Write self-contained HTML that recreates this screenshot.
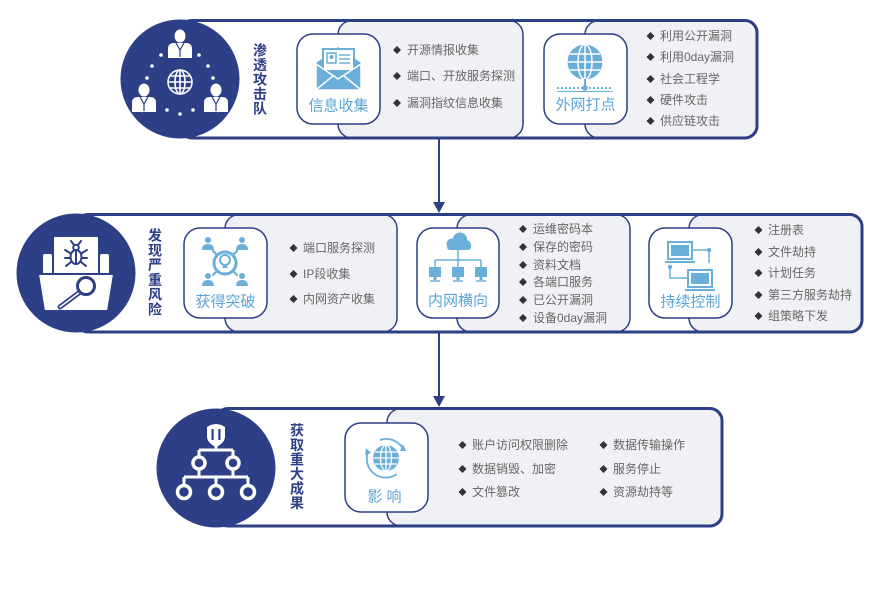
<!DOCTYPE html>
<html><head><meta charset="utf-8"><style>
html,body{margin:0;padding:0;background:#fff;}
svg{display:block;font-family:"Liberation Sans","Noto Sans CJK SC",sans-serif;}
.b{font-size:12px;fill:#666;dominant-baseline:central;}
.t{font-size:14px;font-weight:bold;fill:#2d3f86;text-anchor:middle;dominant-baseline:central;}
.l{font-size:15px;fill:#5ba5d6;text-anchor:middle;dominant-baseline:central;}
.pn{fill:#f0f1f4;stroke:#2d3f86;stroke-width:1.5;}
.fr{fill:none;stroke:#2d3f86;stroke-width:3;}
.bx{fill:#fff;stroke:#2d3f86;stroke-width:1.5;}
.d{fill:#333;}
</style></head><body>
<svg width="884" height="589" viewBox="0 0 884 589" xmlns="http://www.w3.org/2000/svg">
<defs>
<g id="dm"><polygon points="0,-4 4,0 0,4 -4,0"/></g>
</defs>

<!-- ============ ROW 1 ============ -->
<rect class="pn" x="338" y="20.5" width="185" height="117.5" rx="14"/>
<rect class="pn" x="585" y="20.5" width="172" height="117.5" rx="14"/>
<rect class="fr" x="180" y="20.5" width="577" height="117.5" rx="12"/>
<rect class="bx" x="297" y="34" width="83" height="90" rx="16"/>
<rect class="bx" x="544" y="34" width="83" height="90" rx="16"/>
<circle cx="180" cy="79" r="59.5" fill="#2d3f86"/>

<!-- people icon -->
<g fill="#fff">
  <ellipse cx="180" cy="36" rx="5.5" ry="6.5"/>
  <path d="M168,58 L168,49 Q168,43 174,43 L186,43 Q192,43 192,49 L192,58 Z"/>
  <ellipse cx="144" cy="90" rx="5.5" ry="6.5"/>
  <path d="M132,112 L132,103 Q132,97 138,97 L150,97 Q156,97 156,103 L156,112 Z"/>
  <ellipse cx="216" cy="90" rx="5.5" ry="6.5"/>
  <path d="M204,112 L204,103 Q204,97 210,97 L222,97 Q228,97 228,103 L228,112 Z"/>
  <circle cx="161" cy="55" r="1.8"/><circle cx="199" cy="55" r="1.8"/>
  <circle cx="152" cy="66" r="1.8"/><circle cx="208" cy="66" r="1.8"/>
  <circle cx="147" cy="78" r="1.8"/><circle cx="213" cy="78" r="1.8"/>
  <circle cx="167" cy="110" r="1.8"/><circle cx="180" cy="114" r="1.8"/><circle cx="193" cy="110" r="1.8"/>
</g>
<g stroke="#2d3f86" stroke-width="1.2" fill="none">
  <path d="M176,43 L180,50 L184,43"/><path d="M180,50 L180,57"/>
  <path d="M140,97 L144,104 L148,97"/><path d="M144,104 L144,111"/>
  <path d="M212,97 L216,104 L220,97"/><path d="M216,104 L216,111"/>
</g>
<g stroke="#fff" stroke-width="1.6" fill="none">
  <circle cx="180" cy="82" r="12"/>
  <ellipse cx="180" cy="82" rx="5" ry="12"/>
  <line x1="180" y1="70" x2="180" y2="94"/>
  <line x1="168" y1="82" x2="192" y2="82"/>
  <line x1="170" y1="76" x2="190" y2="76"/>
  <line x1="170" y1="88" x2="190" y2="88"/>
</g>

<!-- envelope icon -->
<g>
  <polygon points="316,63 338,47 361,63 361,90 316,90" fill="#6aafd9"/>
  <rect x="323" y="49" width="31" height="22" fill="#fff" stroke="#6aafd9" stroke-width="2"/>
  <rect x="327" y="53" width="9" height="10" fill="none" stroke="#6aafd9" stroke-width="1.5"/>
  <circle cx="331.5" cy="57" r="2" fill="#6aafd9"/>
  <g stroke="#6aafd9" stroke-width="1.5"><line x1="339" y1="55" x2="350" y2="55"/><line x1="339" y1="59" x2="350" y2="59"/><line x1="339" y1="63" x2="350" y2="63"/></g>
  <polygon points="316,64 338,79 361,64 361,90 316,90" fill="#6aafd9" stroke="#fff" stroke-width="1.5"/>
  <g stroke="#fff" stroke-width="1.5"><line x1="317" y1="89" x2="333" y2="76"/><line x1="360" y1="89" x2="344" y2="76"/></g>
</g>
<text class="l" x="338.5" y="106">信息收集</text>

<!-- globe icon -->
<g>
  <circle cx="585" cy="62" r="17.5" fill="#6aafd9"/>
  <g stroke="#fff" stroke-width="1.5" fill="none">
    <ellipse cx="585" cy="62" rx="7" ry="17.5"/>
    <line x1="585" y1="44.5" x2="585" y2="79.5"/>
    <line x1="567.5" y1="62" x2="602.5" y2="62"/>
    <line x1="570" y1="54" x2="600" y2="54"/>
    <line x1="570" y1="70" x2="600" y2="70"/>
  </g>
  <line x1="585" y1="79" x2="585" y2="88" stroke="#6aafd9" stroke-width="2"/>
  <line x1="557" y1="88" x2="613" y2="88" stroke="#6aafd9" stroke-width="2" stroke-dasharray="2 2"/>
  <line x1="557" y1="91.5" x2="613" y2="91.5" stroke="#6aafd9" stroke-width="1"/>
  <circle cx="585" cy="88" r="2.8" fill="#6aafd9"/>
</g>
<text class="l" x="585.5" y="105">外网打点</text>

<g class="t">
<text class="t" x="260" y="50.5">渗</text><text class="t" x="260" y="65">透</text><text class="t" x="260" y="79.5">攻</text><text class="t" x="260" y="94">击</text><text class="t" x="260" y="108.5">队</text>
</g>

<g class="d"><use href="#dm" x="397" y="50"/><use href="#dm" x="397" y="76"/><use href="#dm" x="397" y="103"/></g>
<text class="b" x="407" y="50">开源情报收集</text>
<text class="b" x="407" y="76">端口、开放服务探测</text>
<text class="b" x="407" y="103">漏洞指纹信息收集</text>

<g class="d"><use href="#dm" x="650.5" y="36"/><use href="#dm" x="650.5" y="57"/><use href="#dm" x="650.5" y="79"/><use href="#dm" x="650.5" y="100"/><use href="#dm" x="650.5" y="121"/></g>
<text class="b" x="660" y="36">利用公开漏洞</text>
<text class="b" x="660" y="57">利用0day漏洞</text>
<text class="b" x="660" y="79">社会工程学</text>
<text class="b" x="660" y="100">硬件攻击</text>
<text class="b" x="660" y="121">供应链攻击</text>

<!-- arrow 1 -->
<line x1="439" y1="138" x2="439" y2="204" stroke="#2d3f86" stroke-width="2"/>
<polygon points="433,202 445,202 439,213" fill="#2d3f86"/>

<!-- ============ ROW 2 ============ -->
<rect class="pn" x="225" y="214.5" width="172" height="117.5" rx="14"/>
<rect class="pn" x="457" y="214.5" width="173" height="117.5" rx="14"/>
<rect class="pn" x="689" y="214.5" width="173" height="117.5" rx="14"/>
<rect class="fr" x="76" y="214.5" width="786" height="117.5" rx="12"/>
<rect class="bx" x="184" y="228" width="83" height="90" rx="16"/>
<rect class="bx" x="417" y="228" width="82" height="90" rx="16"/>
<rect class="bx" x="649" y="228" width="83" height="90" rx="16"/>
<circle cx="76" cy="273" r="59.5" fill="#2d3f86"/>

<!-- folder / bug icon -->
<g>
  <rect x="43" y="254" width="9" height="21" rx="2" fill="#fff"/>
  <rect x="100" y="254" width="9" height="21" rx="2" fill="#fff"/>
  <rect x="54" y="237" width="44" height="38" fill="#fff"/>
  <g stroke="#2d3f86" stroke-width="2" fill="none" stroke-linecap="round">
    <ellipse cx="76" cy="257" rx="5.5" ry="7"/>
    <circle cx="76" cy="247.5" r="2.8"/>
    <line x1="76" y1="252" x2="76" y2="264"/>
    <line x1="70" y1="253" x2="65" y2="250"/><line x1="82" y1="253" x2="87" y2="250"/>
    <line x1="70" y1="258" x2="65" y2="258"/><line x1="82" y1="258" x2="87" y2="258"/>
    <line x1="71" y1="262" x2="66" y2="266"/><line x1="81" y1="262" x2="86" y2="266"/>
    <line x1="74" y1="245" x2="71" y2="241"/><line x1="78" y1="245" x2="81" y2="241"/>
  </g>
  <polygon points="38,274 114,274 108,311 44,311" fill="#fff" stroke="#2d3f86" stroke-width="2"/>
  <line x1="80" y1="292" x2="60" y2="307" stroke="#2d3f86" stroke-width="5" stroke-linecap="round"/>
  <line x1="80" y1="292" x2="60" y2="307" stroke="#fff" stroke-width="1.5" stroke-linecap="round"/>
  <circle cx="86" cy="286" r="8.5" fill="#fff" stroke="#2d3f86" stroke-width="3"/>
</g>

<!-- breakthrough icon -->
<g fill="#6aafd9">
  <circle cx="208" cy="240" r="3"/><path d="M202,250 Q202,244 208,244 Q214,244 214,250 Z"/>
  <circle cx="242" cy="240" r="3"/><path d="M236,250 Q236,244 242,244 Q248,244 248,250 Z"/>
  <circle cx="208" cy="276" r="3"/><path d="M202,286 Q202,280 208,280 Q214,280 214,286 Z"/>
  <circle cx="242" cy="276" r="3"/><path d="M236,286 Q236,280 242,280 Q248,280 248,286 Z"/>
</g>
<g stroke="#6aafd9" fill="none">
  <circle cx="225" cy="263" r="11" stroke-width="3"/>
  <circle cx="225" cy="260" r="5" stroke-width="2"/>
  <line x1="222.5" y1="267" x2="227.5" y2="267" stroke-width="2"/>
  <g stroke-width="2.2" stroke-linecap="round">
    <line x1="217" y1="255" x2="213" y2="251"/><line x1="233" y1="255" x2="237" y2="251"/>
    <line x1="217" y1="271" x2="213" y2="275"/><line x1="233" y1="271" x2="237" y2="275"/>
  </g>
</g>
<text class="l" x="225.5" y="302">获得突破</text>

<!-- network icon -->
<g fill="#6aafd9">
  <circle cx="452" cy="244" r="5.5"/><circle cx="460" cy="239.5" r="7"/><circle cx="466" cy="245" r="5"/>
  <rect x="447" y="244" width="24" height="6" rx="3"/>
  <rect x="429" y="267" width="12" height="10"/><rect x="452" y="267" width="12" height="10"/><rect x="475" y="267" width="12" height="10"/>
  <rect x="433.5" y="277" width="3" height="3"/><rect x="456.5" y="277" width="3" height="3"/><rect x="479.5" y="277" width="3" height="3"/>
</g>
<g stroke="#6aafd9" stroke-width="1.5" fill="none">
  <line x1="458" y1="250" x2="458" y2="260"/>
  <line x1="435" y1="260" x2="481" y2="260"/>
  <line x1="435" y1="260" x2="435" y2="267"/><line x1="458" y1="260" x2="458" y2="267"/><line x1="481" y1="260" x2="481" y2="267"/>
  <line x1="430" y1="281" x2="440" y2="281"/><line x1="453" y1="281" x2="463" y2="281"/><line x1="476" y1="281" x2="486" y2="281"/>
</g>
<text class="l" x="458" y="301">内网横向</text>

<!-- control icon -->
<g>
  <rect x="668" y="242" width="24" height="17" fill="#fff" stroke="#6aafd9" stroke-width="2"/>
  <rect x="671" y="245" width="18" height="11" fill="#6aafd9"/>
  <line x1="665" y1="262" x2="695" y2="262" stroke="#6aafd9" stroke-width="2"/>
  <rect x="688" y="270" width="24" height="17" fill="#fff" stroke="#6aafd9" stroke-width="2"/>
  <rect x="691" y="273" width="18" height="11" fill="#6aafd9"/>
  <line x1="685" y1="290" x2="715" y2="290" stroke="#6aafd9" stroke-width="2"/>
  <g stroke="#6aafd9" stroke-width="1.5" fill="none">
    <path d="M693,250 L709,250 L709,263"/>
    <path d="M670,267 L670,278 L687,278"/>
  </g>
  <circle cx="709" cy="250" r="2.2" fill="#6aafd9"/>
  <circle cx="670" cy="267" r="2.2" fill="#6aafd9"/>
</g>
<text class="l" x="690.5" y="302">持续控制</text>

<text class="t" x="155" y="235.5">发</text><text class="t" x="155" y="250.3">现</text><text class="t" x="155" y="265.1">严</text><text class="t" x="155" y="279.9">重</text><text class="t" x="155" y="294.7">风</text><text class="t" x="155" y="309.5">险</text>

<g class="d"><use href="#dm" x="293.5" y="248"/><use href="#dm" x="293.5" y="274"/><use href="#dm" x="293.5" y="299"/></g>
<text class="b" x="303" y="248">端口服务探测</text>
<text class="b" x="303" y="274">IP段收集</text>
<text class="b" x="303" y="299">内网资产收集</text>

<g class="d"><use href="#dm" x="523" y="229"/><use href="#dm" x="523" y="247"/><use href="#dm" x="523" y="265"/><use href="#dm" x="523" y="282"/><use href="#dm" x="523" y="300"/><use href="#dm" x="523" y="318"/></g>
<text class="b" x="533" y="229">运维密码本</text>
<text class="b" x="533" y="247">保存的密码</text>
<text class="b" x="533" y="265">资料文档</text>
<text class="b" x="533" y="282">各端口服务</text>
<text class="b" x="533" y="300">已公开漏洞</text>
<text class="b" x="533" y="318">设备0day漏洞</text>

<g class="d"><use href="#dm" x="758.5" y="230"/><use href="#dm" x="758.5" y="252"/><use href="#dm" x="758.5" y="273"/><use href="#dm" x="758.5" y="295"/><use href="#dm" x="758.5" y="316"/></g>
<text class="b" x="768" y="230">注册表</text>
<text class="b" x="768" y="252">文件劫持</text>
<text class="b" x="768" y="273">计划任务</text>
<text class="b" x="768" y="295">第三方服务劫持</text>
<text class="b" x="768" y="316">组策略下发</text>

<!-- arrow 2 -->
<line x1="439" y1="332" x2="439" y2="398" stroke="#2d3f86" stroke-width="2"/>
<polygon points="433,396 445,396 439,407" fill="#2d3f86"/>

<!-- ============ ROW 3 ============ -->
<rect class="pn" x="387" y="408.5" width="335" height="117.5" rx="14"/>
<rect class="fr" x="216" y="408.5" width="506" height="117.5" rx="12"/>
<rect class="bx" x="345" y="423" width="83" height="89" rx="16"/>
<circle cx="216" cy="468" r="59.5" fill="#2d3f86"/>

<!-- hierarchy icon -->
<g>
  <path d="M207,427 Q216,421 225,427 L225,436 Q225,443 216,447 Q207,443 207,436 Z" fill="#fff"/>
  <rect x="211.5" y="429" width="2.2" height="11" fill="#2d3f86"/>
  <rect x="218.3" y="429" width="2.2" height="11" fill="#2d3f86"/>
  <g stroke="#fff" stroke-width="3" fill="none">
    <line x1="216" y1="446" x2="216" y2="450"/>
    <line x1="199" y1="450" x2="233" y2="450"/>
    <line x1="199" y1="450" x2="199" y2="457"/><line x1="233" y1="450" x2="233" y2="457"/>
    <line x1="199" y1="469" x2="199" y2="477"/><line x1="233" y1="469" x2="233" y2="477"/>
    <line x1="184" y1="477" x2="248" y2="477"/>
    <line x1="184" y1="477" x2="184" y2="485"/><line x1="216" y1="477" x2="216" y2="485"/><line x1="248" y1="477" x2="248" y2="485"/>
  </g>
  <g stroke="#fff" stroke-width="3.5" fill="#2d3f86">
    <circle cx="199" cy="463" r="6"/><circle cx="233" cy="463" r="6"/>
    <circle cx="184" cy="492" r="6.5"/><circle cx="216" cy="492" r="6.5"/><circle cx="248" cy="492" r="6.5"/>
  </g>
</g>

<!-- impact globe icon -->
<g>
  <circle cx="386" cy="458" r="13" fill="#6aafd9"/>
  <g stroke="#fff" stroke-width="1.3" fill="none">
    <ellipse cx="386" cy="458" rx="5.5" ry="13"/>
    <line x1="386" y1="445" x2="386" y2="471"/>
    <line x1="373" y1="458" x2="399" y2="458"/>
    <line x1="375" y1="452" x2="397" y2="452"/>
    <line x1="375" y1="464" x2="397" y2="464"/>
  </g>
  <g stroke="#6aafd9" stroke-width="1.8" fill="none">
    <path d="M368,452 A19,19 0 0 0 397,474"/>
    <path d="M380,440 A19,19 0 0 1 404,451"/>
  </g>
  <polygon points="366,448 371,453 365,455" fill="#6aafd9"/>
  <polygon points="403,444 406,451 400,451" fill="#6aafd9"/>
</g>
<text class="l" x="386.5" y="497" letter-spacing="4">影响</text>

<text class="t" x="297" y="430.3">获</text><text class="t" x="297" y="444.8">取</text><text class="t" x="297" y="459.3">重</text><text class="t" x="297" y="473.8">大</text><text class="t" x="297" y="488.3">成</text><text class="t" x="297" y="502.8">果</text>

<g class="d"><use href="#dm" x="462.5" y="445"/><use href="#dm" x="462.5" y="469"/><use href="#dm" x="462.5" y="492"/>
<use href="#dm" x="603.5" y="445"/><use href="#dm" x="603.5" y="469"/><use href="#dm" x="603.5" y="492"/></g>
<text class="b" x="472" y="445">账户访问权限删除</text>
<text class="b" x="472" y="469">数据销毁、加密</text>
<text class="b" x="472" y="492">文件篡改</text>
<text class="b" x="613" y="445">数据传输操作</text>
<text class="b" x="613" y="469">服务停止</text>
<text class="b" x="613" y="492">资源劫持等</text>
</svg>
</body></html>
